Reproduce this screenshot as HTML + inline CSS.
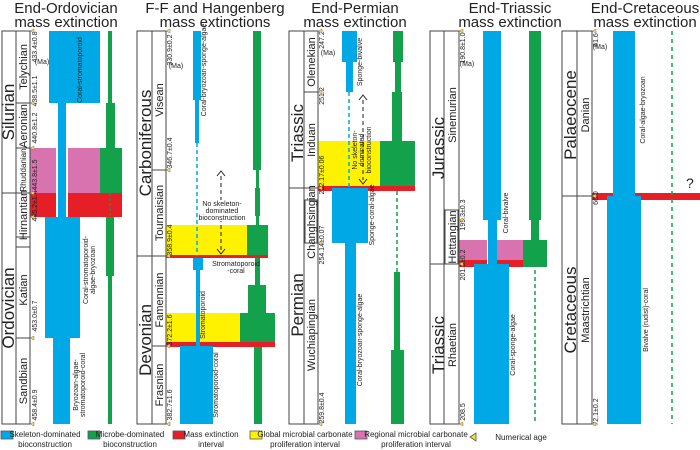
<!DOCTYPE html>
<html><head><meta charset="utf-8"><style>
html,body{margin:0;padding:0;background:#fff;}
svg{display:block;font-family:"Liberation Sans",Arial,sans-serif;}
.t{font-size:15px;fill:#222;text-anchor:middle;}
.p{font-size:17px;fill:#222;text-anchor:middle;}
.s{font-size:11px;fill:#222;text-anchor:middle;}
.n{font-size:7px;fill:#222;text-anchor:middle;}
.l{font-size:7px;fill:#222;text-anchor:middle;}
.g{font-size:8px;fill:#222;text-anchor:middle;}
</style></head><body>
<svg width="700" height="450" viewBox="0 0 700 450" xmlns="http://www.w3.org/2000/svg">
<!-- titles -->
<text class="t" x="66" y="13">End-Ordovician</text><text class="t" x="66" y="27">mass extinction</text>
<text class="t" x="215" y="13">F-F and Hangenberg</text><text class="t" x="215" y="27">mass extinctions</text>
<text class="t" x="355" y="13">End-Permian</text><text class="t" x="355" y="27">mass extinction</text>
<text class="t" x="510" y="13">End-Triassic</text><text class="t" x="510" y="27">mass extinction</text>
<text class="t" x="645" y="13">End-Cretaceous</text><text class="t" x="645" y="27">mass extinction</text>

<!-- Panel 1 -->
<rect x="49" y="31" width="51" height="72" fill="#00a9e6"/>
<rect x="58" y="103" width="8" height="114" fill="#00a9e6"/>
<rect x="30" y="148" width="92" height="45" fill="#d873b0"/>
<rect x="30" y="193" width="92" height="24" fill="#e61e25"/>
<rect x="58" y="148" width="8" height="70" fill="#00a9e6"/>
<rect x="66" y="148" width="2" height="70" fill="#fff"/><rect x="56" y="148" width="2" height="70" fill="#fff"/>
<rect x="45" y="217" width="35" height="121" fill="#00a9e6"/>
<rect x="53" y="338" width="17" height="86" fill="#00a9e6"/>
<rect x="108" y="31" width="4" height="72" fill="#13a14b"/>
<rect x="106" y="103" width="9" height="45" fill="#13a14b"/>
<rect x="100" y="148" width="22" height="45" fill="#13a14b"/>
<line x1="110" y1="193" x2="110" y2="217" stroke="#13a14b" stroke-dasharray="3,2"/>
<rect x="106" y="217" width="8" height="59" fill="#13a14b"/>
<rect x="108" y="276" width="4" height="148" fill="#13a14b"/>
<g fill="none" stroke="#444">
<rect x="2" y="31" width="28" height="393"/><line x1="16" y1="31" x2="16" y2="424"/>
<line x1="2" y1="193" x2="30" y2="193"/><line x1="16" y1="103" x2="30" y2="103"/><line x1="16" y1="148" x2="30" y2="148"/><line x1="16" y1="338" x2="30" y2="338"/>
<rect x="16" y="237" width="14" height="10"/>
</g>
<text class="p" transform="translate(14,112) rotate(-90)">Silurian</text>
<text class="p" transform="translate(14,308) rotate(-90)">Ordovician</text>
<text class="s" transform="translate(27,67) rotate(-90)">Telychian</text>
<text class="s" transform="translate(27,126) rotate(-90)">Aeronian</text>
<text class="n" transform="translate(26,170) rotate(-90)" style="font-size:8px">Rhuddanian</text>
<text class="s" transform="translate(27,215) rotate(-90)">Hirnantian</text>
<text class="s" transform="translate(27,290) rotate(-90)">Katian</text>
<text class="s" transform="translate(27,381) rotate(-90)">Sandbian</text>
<text class="n" transform="translate(37,47) rotate(-90)">433.4±0.8</text>
<text class="n" x="42" y="64">(Ma)</text>
<text class="n" transform="translate(37,91) rotate(-90)">438.5±1.1</text>
<text class="n" transform="translate(37,128) rotate(-90)">440.8±1.2</text>
<text class="n" transform="translate(37,175) rotate(-90)">443.8±1.5</text>
<text class="n" transform="translate(37,206) rotate(-90)">445.2±1.4</text>
<text class="n" transform="translate(37,316) rotate(-90)">453.0±0.7</text>
<text class="n" transform="translate(37,405) rotate(-90)">458.4±0.9</text>
<text class="l" transform="translate(82,70) rotate(-90)">Coral-stromatoporoid</text>
<text class="l" transform="translate(88,270) rotate(-90)">Coral-stromatoporoid-</text>
<text class="l" transform="translate(95,270) rotate(-90)">algae-bryozoan</text>
<text class="l" transform="translate(78,385) rotate(-90)">Bryozoan-algae-</text>
<text class="l" transform="translate(85,385) rotate(-90)">stromatoporoid-coral</text>

<!-- Panel 2 -->
<rect x="166" y="225" width="81" height="31" fill="#fff200"/>
<rect x="247" y="225" width="21" height="31" fill="#13a14b"/>
<rect x="166" y="255" width="102" height="3" fill="#e61e25"/>
<rect x="166" y="313" width="74" height="31" fill="#fff200"/>
<rect x="240" y="313" width="35" height="31" fill="#13a14b"/>
<rect x="166" y="342" width="109" height="5" fill="#e61e25"/>
<rect x="193" y="31" width="8" height="69" fill="#00a9e6"/>
<rect x="195" y="100" width="4" height="43" fill="#00a9e6"/>
<line x1="197" y1="143" x2="197" y2="256" stroke="#00a9e6" stroke-width="1.5" stroke-dasharray="4,3"/>
<rect x="193" y="258" width="10" height="12" fill="#00a9e6"/>
<rect x="196" y="270" width="4" height="76" fill="#00a9e6"/>
<rect x="180" y="346" width="33" height="78" fill="#00a9e6"/>
<rect x="253" y="31" width="8" height="139" fill="#13a14b"/>
<rect x="256" y="170" width="3" height="55" fill="#13a14b"/>
<rect x="255" y="188" width="5" height="28" fill="#13a14b"/>
<rect x="255" y="258" width="5" height="27" fill="#13a14b"/>
<rect x="248" y="285" width="18" height="28" fill="#13a14b"/>
<rect x="254" y="347" width="8" height="77" fill="#13a14b"/>
<line x1="221" y1="176" x2="221" y2="250" stroke="#222" stroke-dasharray="4,3"/>
<path d="M217,176 L221,171 L225,176 M217,249 L221,254 L225,249" stroke="#222" fill="none"/>
<rect x="200" y="200" width="44" height="21" fill="#fff"/>
<text class="l" x="222" y="206">No skeleton-</text><text class="l" x="222" y="213">dominated</text><text class="l" x="222" y="220">bioconstruction</text>
<text class="l" x="236" y="266">Stromatoporoid</text><text class="l" x="236" y="273">-coral</text>
<g fill="none" stroke="#444">
<rect x="137" y="31" width="29" height="393"/><line x1="152" y1="31" x2="152" y2="424"/>
<line x1="137" y1="256" x2="166" y2="256"/><line x1="152" y1="170" x2="166" y2="170"/><line x1="152" y1="346" x2="166" y2="346"/>
</g>
<text class="p" transform="translate(151,143) rotate(-90)">Carboniferous</text>
<text class="p" transform="translate(151,340) rotate(-90)">Devonian</text>
<text class="s" transform="translate(163,100) rotate(-90)">Visean</text>
<text class="s" transform="translate(163,213) rotate(-90)">Tournaisian</text>
<text class="s" transform="translate(163,300) rotate(-90)">Famennian</text>
<text class="s" transform="translate(163,385) rotate(-90)">Frasnian</text>
<text class="n" transform="translate(172,50) rotate(-90)">330.9±0.2</text>
<text class="n" x="176" y="68">(Ma)</text>
<text class="n" transform="translate(172,153) rotate(-90)">346.7±0.4</text>
<text class="n" transform="translate(172,240) rotate(-90)">358.9±0.4</text>
<text class="n" transform="translate(172,330) rotate(-90)">372.2±1.6</text>
<text class="n" transform="translate(172,405) rotate(-90)">382.7±1.6</text>
<text class="l" transform="translate(206,70) rotate(-90)">Coral-bryozoan-sponge-algae</text>
<text class="l" transform="translate(205,315) rotate(-90)">Stromatoporoid</text>
<text class="l" transform="translate(218,385) rotate(-90)">Stromatoporoid-coral</text>

<!-- Panel 3 -->
<rect x="318" y="141" width="62" height="45" fill="#fff200"/>
<rect x="380" y="141" width="35" height="45" fill="#13a14b"/>
<rect x="318" y="186" width="97" height="5" fill="#e61e25"/>
<rect x="342" y="31" width="15" height="31" fill="#00a9e6"/>
<rect x="346" y="62" width="7" height="30" fill="#00a9e6"/>
<line x1="349" y1="92" x2="349" y2="188" stroke="#00a9e6" stroke-width="1.5" stroke-dasharray="4,3"/>
<rect x="332" y="188" width="36" height="55" fill="#00a9e6"/>
<rect x="345" y="243" width="11" height="181" fill="#00a9e6"/>
<rect x="393" y="31" width="10" height="31" fill="#13a14b"/>
<rect x="395" y="62" width="6" height="30" fill="#13a14b"/>
<rect x="392" y="92" width="10" height="49" fill="#13a14b"/>
<line x1="397" y1="191" x2="397" y2="272" stroke="#13a14b" stroke-width="1.5" stroke-dasharray="4,3"/>
<rect x="394" y="272" width="6" height="78" fill="#13a14b"/>
<rect x="391" y="350" width="13" height="74" fill="#13a14b"/>
<line x1="363" y1="100" x2="363" y2="180" stroke="#222" stroke-dasharray="4,3"/>
<path d="M359,100 L363,95 L367,100 M359,179 L363,184 L367,179" stroke="#222" fill="none"/>
<text class="l" transform="translate(357,150) rotate(-90)">No skeleton-</text>
<text class="l" transform="translate(364,150) rotate(-90)">dominated</text>
<text class="l" transform="translate(371,150) rotate(-90)">bioconstruction</text>
<g fill="none" stroke="#444">
<rect x="289" y="31" width="29" height="393"/><line x1="304" y1="31" x2="304" y2="424"/>
<line x1="289" y1="188" x2="318" y2="188"/><line x1="304" y1="92" x2="318" y2="92"/>
<rect x="305" y="200" width="12" height="43"/>
</g>
<text class="p" transform="translate(303,133) rotate(-90)">Triassic</text>
<text class="p" transform="translate(303,305) rotate(-90)">Permian</text>
<text class="s" transform="translate(315,62) rotate(-90)">Olenekian</text>
<text class="s" transform="translate(315,140) rotate(-90)">Induan</text>
<text class="s" transform="translate(315,222) rotate(-90)">Changhsingian</text>
<text class="s" transform="translate(315,335) rotate(-90)">Wuchiapingian</text>
<text class="n" transform="translate(324,40) rotate(-90)">247.2</text>
<text class="n" x="328" y="55">(Ma)</text>
<text class="n" transform="translate(324,96) rotate(-90)">251.2</text>
<text class="n" transform="translate(324,175) rotate(-90)">252.17±0.06</text>
<text class="n" transform="translate(324,245) rotate(-90)">254.14±0.07</text>
<text class="n" transform="translate(324,408) rotate(-90)">259.8±0.4</text>
<text class="l" transform="translate(362,62) rotate(-90)">Sponge-bivalve</text>
<text class="l" transform="translate(374,215) rotate(-90)">Sponge-coral-algae</text>
<text class="l" transform="translate(362,340) rotate(-90)">Coral-bryozoan-sponge-algae</text>

<!-- Panel 4 -->
<rect x="459" y="240" width="28" height="20" fill="#d873b0"/>
<rect x="497" y="240" width="26" height="20" fill="#d873b0"/>
<rect x="459" y="260" width="28" height="7" fill="#e61e25"/>
<rect x="497" y="260" width="26" height="7" fill="#e61e25"/>
<rect x="483" y="31" width="18" height="189" fill="#00a9e6"/>
<rect x="488" y="220" width="9" height="44" fill="#00a9e6"/>
<rect x="474" y="264" width="35" height="160" fill="#00a9e6"/>
<rect x="529" y="31" width="12" height="189" fill="#13a14b"/>
<rect x="531" y="220" width="8" height="20" fill="#13a14b"/>
<rect x="523" y="240" width="24" height="27" fill="#13a14b"/>
<line x1="535" y1="270" x2="535" y2="424" stroke="#13a14b" stroke-width="1.5" stroke-dasharray="4,3"/>
<g fill="none" stroke="#444">
<rect x="430" y="31" width="29" height="393"/><line x1="444" y1="31" x2="444" y2="424"/>
<line x1="430" y1="264" x2="459" y2="264"/><rect x="445" y="210" width="13" height="54"/>
</g>
<text class="p" transform="translate(444,148) rotate(-90)">Jurassic</text>
<text class="p" transform="translate(444,345) rotate(-90)">Triassic</text>
<text class="s" transform="translate(456,115) rotate(-90)">Sinemurian</text>
<text class="s" transform="translate(456,237) rotate(-90)">Hettangian</text>
<text class="s" transform="translate(456,345) rotate(-90)">Rhaetian</text>
<text class="n" transform="translate(465,48) rotate(-90)">190.8±1.0</text>
<text class="n" x="467" y="66">(Ma)</text>
<text class="n" transform="translate(465,215) rotate(-90)">199.3±0.3</text>
<text class="n" transform="translate(465,265) rotate(-90)">201.3±0.2</text>
<text class="n" transform="translate(465,412) rotate(-90)">208.5</text>
<text class="l" transform="translate(508,213) rotate(-90)">Coral-bivalve</text>
<text class="l" transform="translate(515,345) rotate(-90)">Coral-sponge-algae</text>

<!-- Panel 5 -->
<rect x="592" y="193" width="108" height="7" fill="#e61e25"/>
<rect x="613" y="31" width="22" height="165" fill="#00a9e6"/>
<rect x="607" y="196" width="34" height="228" fill="#00a9e6"/>
<line x1="672" y1="31" x2="672" y2="424" stroke="#13a14b" stroke-width="1.5" stroke-dasharray="4,4"/>
<text x="686" y="188" style="font-size:14px" fill="#222">?</text>
<g fill="none" stroke="#444">
<rect x="562" y="31" width="30" height="393"/><line x1="577" y1="31" x2="577" y2="424"/>
<line x1="562" y1="196" x2="592" y2="196"/>
</g>
<text class="p" transform="translate(576,115) rotate(-90)">Palaeocene</text>
<text class="p" transform="translate(576,310) rotate(-90)">Cretaceous</text>
<text class="s" transform="translate(589,115) rotate(-90)">Danian</text>
<text class="s" transform="translate(589,310) rotate(-90)">Maastrichtian</text>
<text class="n" transform="translate(598,40) rotate(-90)">61.6</text>
<text class="n" x="600" y="49">(Ma)</text>
<text class="n" transform="translate(598,198) rotate(-90)">66.0</text>
<text class="n" transform="translate(598,412) rotate(-90)">72.1±0.2</text>
<text class="l" transform="translate(645,110) rotate(-90)">Coral-algae-bryozoan</text>
<text class="l" transform="translate(648,320) rotate(-90)">Bivalve (rudist)-coral</text>

<!-- age markers -->
<g fill="#f3e03b" stroke="#777" stroke-width="0.5">
<path d="M30,31 l4,-2 v4z"/><path d="M30,103 l4,-2 v4z"/><path d="M30,148 l4,-2 v4z"/><path d="M30,193 l4,-2 v4z"/><path d="M30,217 l4,-2 v4z"/><path d="M30,338 l4,-2 v4z"/><path d="M30,424 l4,-2 v4z"/>
<path d="M166,31 l4,-2 v4z"/><path d="M166,170 l4,-2 v4z"/><path d="M166,256 l4,-2 v4z"/><path d="M166,346 l4,-2 v4z"/><path d="M166,424 l4,-2 v4z"/>
<path d="M318,31 l4,-2 v4z"/><path d="M318,92 l4,-2 v4z"/><path d="M318,188 l4,-2 v4z"/><path d="M318,243 l4,-2 v4z"/><path d="M318,424 l4,-2 v4z"/>
<path d="M459,31 l4,-2 v4z"/><path d="M459,220 l4,-2 v4z"/><path d="M459,264 l4,-2 v4z"/><path d="M459,424 l4,-2 v4z"/>
<path d="M592,31 l4,-2 v4z"/><path d="M592,196 l4,-2 v4z"/><path d="M592,424 l4,-2 v4z"/>
</g>

<!-- legend -->
<g stroke="#555" stroke-width="0.8">
<rect x="1" y="431" width="12" height="8" fill="#00a9e6"/>
<rect x="88" y="431" width="12" height="8" fill="#13a14b"/>
<rect x="173" y="431" width="12" height="8" fill="#e61e25"/>
<rect x="250" y="431" width="12" height="8" fill="#fff200"/>
<rect x="355" y="431" width="12" height="8" fill="#d873b0"/>
</g>
<path d="M470,437 l6,-4 v8z" fill="#f3e03b" stroke="#555" stroke-width="0.8"/>
<text class="g" x="45" y="437">Skeleton-dominated</text><text class="g" x="45" y="447">bioconstruction</text>
<text class="g" x="130" y="437">Microbe-dominated</text><text class="g" x="130" y="447">bioconstruction</text>
<text class="g" x="211" y="437">Mass extinction</text><text class="g" x="211" y="447">interval</text>
<text class="g" x="305" y="437">Global microbial carbonate</text><text class="g" x="305" y="447">proliferation interval</text>
<text class="g" x="416" y="437">Regional microbial carbonate</text><text class="g" x="416" y="447">proliferation interval</text>
<text class="g" x="521" y="440">Numerical age</text>
</svg>
</body></html>
